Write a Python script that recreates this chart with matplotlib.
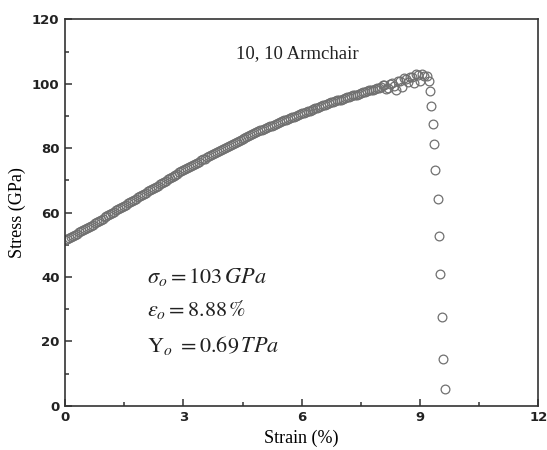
import matplotlib
matplotlib.use("Agg")
import matplotlib.pyplot as plt
from matplotlib.ticker import MultipleLocator
from matplotlib import font_manager

plt.rcParams['mathtext.fontset'] = 'stix'

# strain (%) / stress (GPa), loading part
strain = [0.0, 0.1, 0.2, 0.3, 0.4, 0.5, 0.6, 0.7, 0.8, 0.9,
          1.0, 1.1, 1.2, 1.3, 1.4, 1.5, 1.6, 1.7, 1.8, 1.9,
          2.0, 2.1, 2.2, 2.3, 2.4, 2.5, 2.6, 2.7, 2.8, 2.9,
          3.0, 3.1, 3.2, 3.3, 3.4, 3.5, 3.6, 3.7, 3.8, 3.9,
          4.0, 4.1, 4.2, 4.3, 4.4, 4.5, 4.6, 4.7, 4.8, 4.9,
          5.0, 5.1, 5.2, 5.3, 5.4, 5.5, 5.6, 5.7, 5.8, 5.9,
          6.0, 6.1, 6.2, 6.3, 6.4, 6.5, 6.6, 6.7, 6.8, 6.9,
          7.0, 7.1, 7.2, 7.3, 7.4, 7.5, 7.6, 7.7, 7.8, 7.9,
          8.0, 8.1, 8.2, 8.3, 8.4, 8.5, 8.6, 8.7, 8.8, 8.9, 9.0, 9.1]
stress = [51.5, 52.1, 52.8, 53.5, 54.2, 54.9, 55.6, 56.3, 57.0, 57.8,
          58.5, 59.2, 60.0, 60.7, 61.4, 62.2, 62.9, 63.6, 64.3, 65.1,
          65.8, 66.6, 67.3, 68.0, 68.8, 69.5, 70.3, 71.0, 71.7, 72.5,
          73.2, 73.9, 74.5, 75.2, 75.8, 76.5, 77.2, 77.8, 78.5, 79.1,
          79.8, 80.4, 81.0, 81.6, 82.2, 82.8, 83.4, 84.0, 84.6, 85.2,
          85.8, 86.3, 86.8, 87.3, 87.8, 88.3, 88.8, 89.3, 89.8, 90.3,
          90.8, 91.3, 91.6, 92.2, 92.5, 93.1, 93.3, 94.0, 94.2, 94.9,
          95.1, 95.7, 95.9, 96.5, 96.6, 97.2, 97.4, 98.0, 98.1, 98.8,
          99.0, 99.6, 98.8, 100.3, 98.2, 101.0, 101.8, 100.5, 102.0, 103.0, 101.0, 102.5]

# intermediate samples of the loading part
strain_mid = [0.05, 0.15, 0.25, 0.35, 0.45, 0.55, 0.65, 0.75, 0.85, 0.95,
              1.05, 1.15, 1.25, 1.35, 1.45, 1.55, 1.65, 1.75, 1.85, 1.95,
              2.05, 2.15, 2.25, 2.35, 2.45, 2.55, 2.65, 2.75, 2.85, 2.95,
              3.05, 3.15, 3.25, 3.35, 3.45, 3.55, 3.65, 3.75, 3.85, 3.95,
              4.05, 4.15, 4.25, 4.35, 4.45, 4.55, 4.65, 4.75, 4.85, 4.95,
              5.05, 5.15, 5.25, 5.35, 5.45, 5.55, 5.65, 5.75, 5.85, 5.95,
              6.05, 6.15, 6.25, 6.35, 6.45, 6.55, 6.65, 6.75, 6.85, 6.95,
              7.05, 7.15, 7.25, 7.35, 7.45, 7.55, 7.65, 7.75, 7.85, 7.95,
              8.05, 8.15, 8.25, 8.35, 8.45, 8.55, 8.65, 8.75, 8.85, 8.95, 9.05]
stress_mid = [51.8, 52.5, 53.1, 53.9, 54.5, 55.3, 55.9, 56.7, 57.4, 58.1,
              58.9, 59.6, 60.3, 61.1, 61.8, 62.5, 63.3, 64.0, 64.7, 65.4,
              66.2, 66.9, 67.7, 68.4, 69.1, 69.9, 70.6, 71.4, 72.1, 72.8,
              73.6, 74.2, 74.9, 75.5, 76.2, 76.8, 77.5, 78.2, 78.8, 79.5,
              80.1, 80.7, 81.3, 81.9, 82.5, 83.1, 83.7, 84.3, 84.9, 85.5,
              86.0, 86.6, 87.0, 87.6, 88.0, 88.6, 89.0, 89.6, 90.0, 90.6,
              90.9, 91.5, 91.8, 92.4, 92.8, 93.3, 93.6, 94.2, 94.5, 95.0,
              95.4, 95.8, 96.2, 96.5, 96.9, 97.3, 97.7, 98.1, 98.4, 98.8,
              99.5, 98.5, 100.0, 99.2, 100.8, 99.0, 101.5, 102.2, 100.2, 102.8, 103.0]

# fracture part
strain_drop = [9.19, 9.22, 9.25, 9.29, 9.32, 9.36, 9.39, 9.45, 9.49, 9.51, 9.55, 9.58, 9.63]
stress_drop = [102.3, 100.9, 97.9, 93.0, 87.5, 81.3, 73.1, 64.1, 52.8, 40.9, 27.5, 14.5, 5.2]

# condensed bold font for tick labels, if there is one
names = {f.name for f in font_manager.fontManager.ttflist}
tick_family = 'Liberation Sans Narrow' if 'Liberation Sans Narrow' in names else 'DejaVu Sans'

fig = plt.figure(figsize=(5.47, 4.5), dpi=100)
ax = fig.add_axes([0.119, 0.098, 0.865, 0.859])

mk = dict(marker='o', linestyle='none', markersize=6.3, markerfacecolor='none',
          markeredgecolor='#707070', markeredgewidth=0.9)
ax.plot(strain, stress, **mk)
ax.plot(strain_mid, stress_mid, **mk)
ax.plot(strain_drop, stress_drop, **mk)

ax.set_xlim(0, 12)
ax.set_ylim(0, 120)
ax.xaxis.set_major_locator(MultipleLocator(3))
ax.xaxis.set_minor_locator(MultipleLocator(1.5))
ax.yaxis.set_major_locator(MultipleLocator(20))
ax.yaxis.set_minor_locator(MultipleLocator(10))
ax.tick_params(which='both', direction='in', top=False, right=False, color='#333333', width=1.1)
ax.tick_params(which='major', length=5, labelsize=9.5 if tick_family == 'DejaVu Sans' else 10.5, pad=4)
ax.tick_params(which='minor', length=3)
for lab in ax.get_xticklabels() + ax.get_yticklabels():
    lab.set_family(tick_family)
    lab.set_fontweight('bold')
    lab.set_color('#222222')
for s in ax.spines.values():
    s.set_linewidth(1.2)
    s.set_color('#333333')

ax.set_xlabel('Strain (%)', family='Liberation Serif', fontsize=13, labelpad=4)
ax.set_ylabel('Stress (GPa)', family='Liberation Serif', fontsize=13, labelpad=4)

ax.text(5.88, 109.4, '10, 10 Armchair', family='Liberation Serif', fontsize=13.5,
        ha='center', va='center', color='#222222')
ax.text(2.08, 40.1, r'$\sigma_o = 103\,GPa$', fontsize=16, va='center', color='#222222')
ax.text(2.08, 29.8, r'$\varepsilon_o = 8.88\,\%$', fontsize=16, va='center', color='#222222')
ax.text(2.08, 18.9, r'$\mathrm{Y}_{o}\ = 0.69\,TPa$', fontsize=16, va='center', color='#222222')

fig.savefig('out.png', dpi=100)
